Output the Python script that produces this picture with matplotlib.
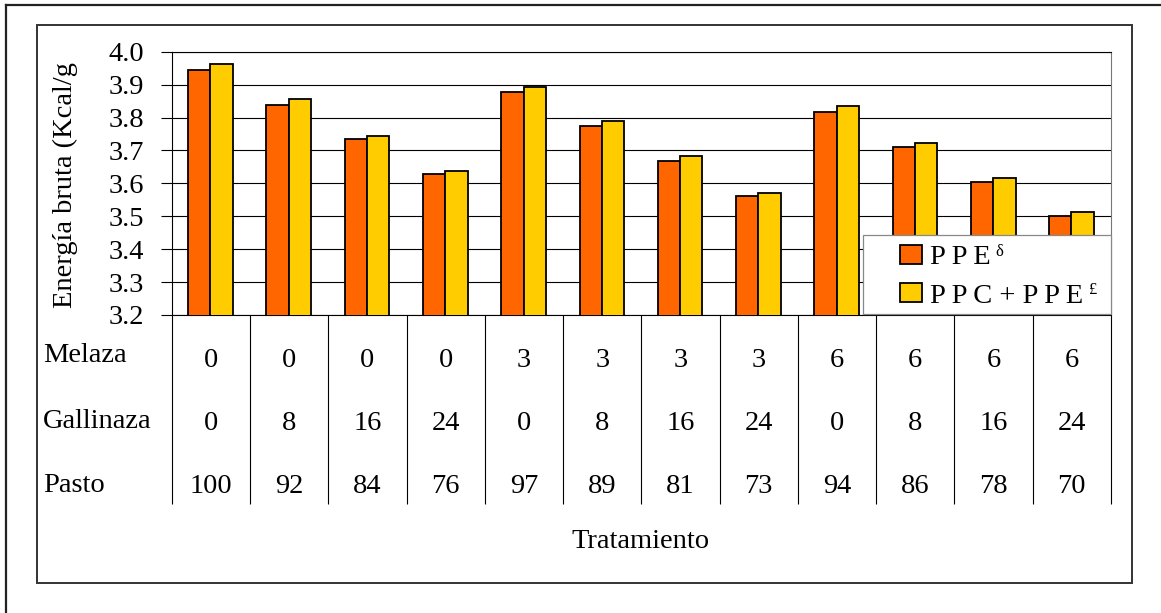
import numpy as np
import matplotlib
matplotlib.use('Agg')
import matplotlib.pyplot as plt
from matplotlib.patches import Rectangle
from matplotlib.lines import Line2D

plt.rcParams['font.family'] = ['Liberation Serif', 'DejaVu Serif']

# energía bruta por tratamiento (Kcal/g)
ppe = [3.945, 3.839, 3.734, 3.628, 3.878, 3.773, 3.667, 3.561, 3.817, 3.711, 3.605, 3.500]
ppc_ppe = [3.962, 3.856, 3.745, 3.639, 3.894, 3.789, 3.684, 3.572, 3.834, 3.723, 3.617, 3.512]

# composición de cada tratamiento (%)
melaza = [0, 0, 0, 0, 3, 3, 3, 3, 6, 6, 6, 6]
gallinaza = [0, 8, 16, 24, 0, 8, 16, 24, 0, 8, 16, 24]
pasto = [100, 92, 84, 76, 97, 89, 81, 73, 94, 86, 78, 70]
row_names = ['Melaza', 'Gallinaza', 'Pasto']

y_ticks = [3.2, 3.3, 3.4, 3.5, 3.6, 3.7, 3.8, 3.9, 4.0]

W, H = 1161, 613
fs = 20.5


def px(x, y):
    # pixel position -> figure fraction
    return x / W, 1 - y / H


fig = plt.figure(figsize=(W / 100, H / 100), dpi=100)
x0, y1 = px(171.7, 51.7)
x1, y0 = px(1111, 315)
ax = fig.add_axes([x0, y0, x1 - x0, y1 - y0])

x = np.arange(len(ppe))
bw = 0.285
ax.bar(x - bw / 2 - 0.005, ppe, bw, color='#FF6600', edgecolor='black', linewidth=1.3, zorder=3)
ax.bar(x + bw / 2 - 0.005, ppc_ppe, bw, color='#FFCC00', edgecolor='black', linewidth=1.3, zorder=3)

ax.set_ylim(3.2, 4.0)
ax.set_xlim(-0.5, len(ppe) - 0.5)
ax.set_yticks(y_ticks)
ax.set_yticklabels(['%.1f' % v for v in y_ticks], fontsize=fs)
ax.tick_params(axis='y', length=7.7, width=0.8, pad=12, color='black')
ax.tick_params(axis='x', length=0, labelbottom=False)
ax.yaxis.grid(True, color='black', linewidth=0.8, zorder=0)
for s in ['top', 'left', 'bottom']:
    ax.spines[s].set_linewidth(0.8)
    ax.spines[s].set_color('black')
ax.spines['right'].set_color('#777777')
ax.spines['right'].set_linewidth(0.8)

# tabla de composición bajo el eje
tr = ax.get_xaxis_transform()
ax_h = 315 - 51.7
ax.vlines(np.arange(len(ppe) + 1) - 0.5, -(504 - 315) / ax_h, 0, transform=tr,
          colors='black', linewidth=0.8, clip_on=False)
row_y = [360.5, 423.3, 486.7]
label_y = [355, 421, 486]
for vals, ry, ly, name in zip([melaza, gallinaza, pasto], row_y, label_y, row_names):
    for i, v in enumerate(vals):
        ax.text(i, -(ry - 315) / ax_h, str(v), transform=tr, ha='center', va='center',
                fontsize=fs, clip_on=False)
    fig.text(*px(43, ly), name, ha='left', va='center', fontsize=fs)

fig.text(*px(640, 541), 'Tratamiento', ha='center', va='center', fontsize=fs)
fig.text(*px(65.5, 185), 'Energía bruta (Kcal/g', rotation=90, ha='center', va='center', fontsize=fs)

# leyenda
lx0, ly0 = px(862.7, 314.3)
lx1, ly1 = px(1110.7, 235)
fig.add_artist(Rectangle((lx0, ly0), lx1 - lx0, ly1 - ly0, transform=fig.transFigure,
                         facecolor='white', edgecolor='#888888', linewidth=0.9, zorder=5))
entries = [('#FF6600', 'P\u2009P\u2009E', 'δ', 245, 264.3),
           ('#FFCC00', 'P\u2009P\u2009C + P\u2009P\u2009E', '£', 283.3, 302.7)]
labels = []
for col, lab, sup, top, base in entries:
    sx, sy = px(900, top + 19)
    sx1, sy1 = px(922.3, top)
    fig.add_artist(Rectangle((sx, sy), sx1 - sx, sy1 - sy, transform=fig.transFigure,
                             facecolor=col, edgecolor='black', linewidth=1.3, zorder=6))
    t = fig.text(*px(930, base), lab, ha='left', va='baseline', fontsize=fs, zorder=6)
    labels.append((t, sup, top))

# superíndices junto al final de cada etiqueta
fig.canvas.draw()
for t, sup, top in labels:
    bb = t.get_window_extent()
    fig.text((bb.x1 + 5) / W, 1 - (top - 1) / H, sup, ha='left', va='top', fontsize=12, zorder=7)

# marcos
fx0, fy0 = px(37, 582.7)
fx1, fy1 = px(1131.7, 25)
fig.add_artist(Rectangle((fx0, fy0), fx1 - fx0, fy1 - fy0, transform=fig.transFigure,
                         fill=False, edgecolor='#333333', linewidth=1.4))
ox, oy = px(6, 5)
fig.add_artist(Line2D([ox, ox], [0, oy], transform=fig.transFigure, color='#222222', linewidth=1.6))
fig.add_artist(Line2D([ox, 1], [oy, oy], transform=fig.transFigure, color='#222222', linewidth=1.6))

fig.savefig('out.png', dpi=100)
